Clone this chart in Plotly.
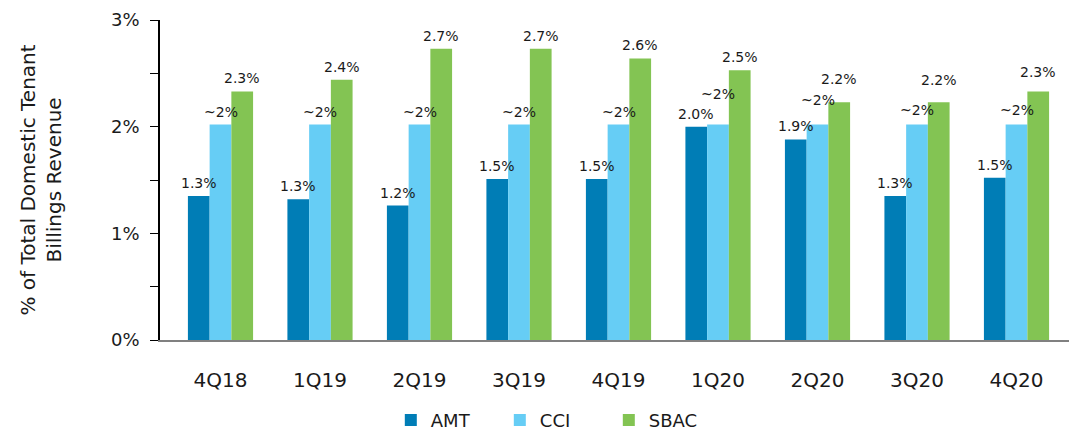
import plotly.graph_objects as go

quarters = ["4Q18", "1Q19", "2Q19", "3Q19", "4Q19", "1Q20", "2Q20", "3Q20", "4Q20"]
amt = [1.35, 1.32, 1.26, 1.51, 1.51, 2.00, 1.88, 1.35, 1.52]
cci = [2.02, 2.02, 2.02, 2.02, 2.02, 2.02, 2.02, 2.02, 2.02]
sbac = [2.33, 2.44, 2.73, 2.73, 2.64, 2.53, 2.23, 2.23, 2.33]
amt_labels = ["1.3%", "1.3%", "1.2%", "1.5%", "1.5%", "2.0%", "1.9%", "1.3%", "1.5%"]
cci_labels = ["~2%"] * 9
sbac_labels = ["2.3%", "2.4%", "2.7%", "2.7%", "2.6%", "2.5%", "2.2%", "2.2%", "2.3%"]

# extra lift (px) for labels placed higher to avoid collisions
label_lift = {
    "AMT": {},
    "CCI": {"1Q20": 18, "2Q20": 12, "3Q20": 2, "4Q20": 2},
    "SBAC": {"2Q20": 10, "3Q20": 9, "4Q20": 6},
}

FONT = "'DejaVu Sans', sans-serif"
TXT = "#1a1a1a"
label_font = dict(family=FONT, size=14, color=TXT)

W, H = 1077, 432
ML, MR, MT, MB = 152, 8, 12, 100
XRANGE = [-0.608, 8.608]
BARGAP = 0.345

series = [
    ("AMT", amt, amt_labels, "#007DB6"),
    ("CCI", cci, cci_labels, "#66CDF5"),
    ("SBAC", sbac, sbac_labels, "#83C453"),
]

fig = go.Figure()
for name, vals, labels, color in series:
    fig.add_trace(go.Bar(
        x=quarters, y=vals, name=name, marker_color=color, marker_line_width=0,
        hoverinfo="skip",
    ))

# label placement derived from bar geometry
plot_w = W - ML - MR
bar_px = plot_w / (XRANGE[1] - XRANGE[0]) * (1 - BARGAP) / len(series)
for i, (name, vals, labels, color) in enumerate(series):
    xs = (i - (len(series) - 1) / 2) * bar_px
    for q, v, lab in zip(quarters, vals, labels):
        fig.add_annotation(x=q, y=v, text=lab, showarrow=False, xanchor="center",
                           yanchor="bottom", xshift=xs,
                           yshift=3 + label_lift[name].get(q, 0),
                           font=label_font)

fig.update_layout(
    width=W, height=H,
    margin=dict(l=ML, r=MR, t=MT, b=MB, autoexpand=False),
    paper_bgcolor="white", plot_bgcolor="white",
    barmode="group", bargap=BARGAP, bargroupgap=0,
    font=dict(family=FONT, color=TXT),
    legend=dict(orientation="h", x=0.43, xanchor="center", y=-0.193, yanchor="top",
                font=dict(family=FONT, size=18, color=TXT), entrywidth=64,
                traceorder="normal", borderwidth=0),
    showlegend=True,
)
fig.update_xaxes(
    range=XRANGE, showline=True, linecolor="#808080", linewidth=2,
    ticks="", tickfont=dict(family=FONT, size=20, color=TXT), ticklabelstandoff=21,
    showgrid=False, zeroline=False, automargin=False,
)
fig.update_yaxes(
    range=[0, 3], tickvals=[0, 1, 2, 3],
    ticktext=["0%", "1%", "2%", "3%"],
    showline=True, linecolor="black", linewidth=1.5,
    ticks="outside", ticklen=8, tickcolor="black", tickwidth=1,
    minor=dict(dtick=0.5, ticks="outside", ticklen=8, tickcolor="black", tickwidth=1),
    tickfont=dict(family=FONT, size=18, color=TXT), ticklabelstandoff=7,
    showgrid=False, zeroline=False, automargin=False,
    title=dict(text="% of Total Domestic Tenant<br>Billings Revenue",
               font=dict(family=FONT, size=20, color=TXT), standoff=44),
)

fig.write_html("out.html")
